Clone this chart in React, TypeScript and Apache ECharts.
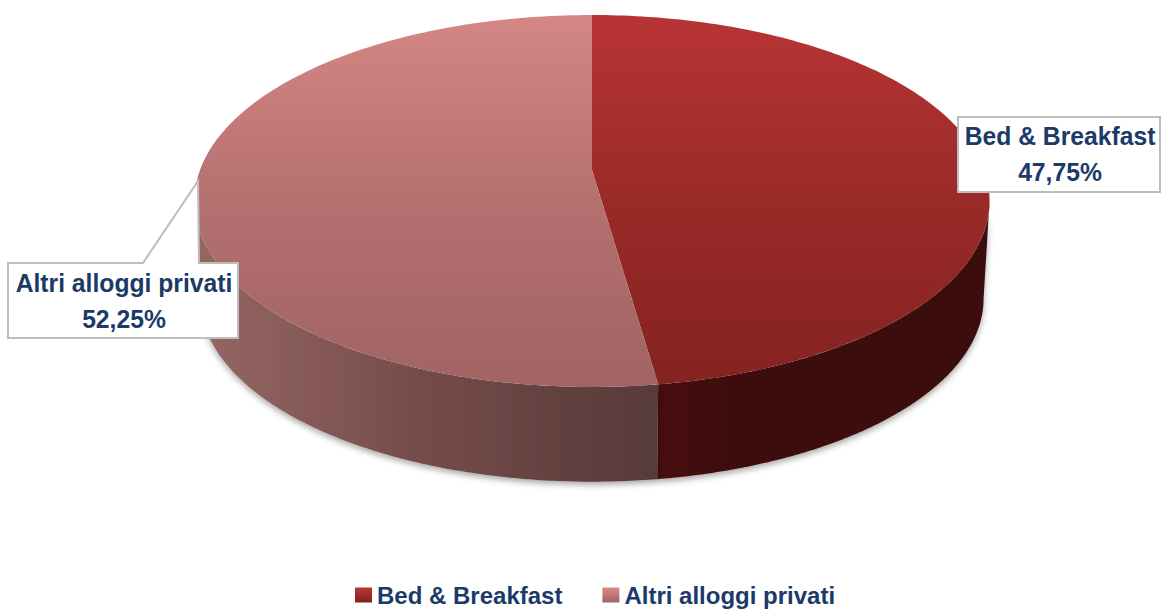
import React, { useEffect, useRef } from "react";
import * as echarts from "echarts";

const categories = ["Bed & Breakfast", "Altri alloggi privati"];
const shares = [47.75, 52.25];
const shareLabels = ["47,75%", "52,25%"];

const topStops = [
  [[0, "#B83434"], [0.5, "#9A2A28"], [1, "#842321"]],
  [[0, "#D48785"], [0.5, "#B57070"], [1, "#A16363"]],
];
const LABEL_FONT = "Liberation Sans";
const NAVY = "#1B3A68";

// perspective projection of the disc
const CX = 592;
const CY = 170;
const A = 392;
const B = 180.8;
const K = 1 / 6;
const DEPTH = 98;
const project = (t: number, scale: number, dy: number) => {
  const u = Math.sin(t);
  const v = -Math.cos(t);
  const d = 1 - K * v;
  return [CX + (scale * A * u) / d, CY + dy + (scale * B * v) / d];
};
const arc = (a: number, b: number, scale: number, dy: number) => {
  const pts: number[][] = [];
  const n = 160;
  for (let i = 0; i <= n; i++) pts.push(project(a + ((b - a) * i) / n, scale, dy));
  return pts;
};

const total = shares.reduce((s, v) => s + v, 0);
const angleBefore = (i: number) => (shares.slice(0, i).reduce((s, v) => s + v, 0) / total) * Math.PI * 2;
// the wall is visible between the two silhouette angles of the disc
const frontFrom = Math.acos(-K);
const frontTo = Math.PI * 2 - frontFrom;

const sideFill = [
  new echarts.graphic.LinearGradient(660, 0, 990, 0, [
    { offset: 0, color: "#471110" },
    { offset: 0.3, color: "#3A0E0D" },
    { offset: 1, color: "#3A0F0E" },
  ], true),
  new echarts.graphic.LinearGradient(205, 0, 660, 0, [
    { offset: 0, color: "#946662" },
    { offset: 0.5, color: "#744A49" },
    { offset: 1, color: "#573A39" },
  ], true),
];

const makeRender = (i: number) => (_: any, api: any) => {
  const value = api.value(0) as number;
  const a0 = angleBefore(i);
  const a1 = a0 + (value / total) * Math.PI * 2;
  const grad = new echarts.graphic.LinearGradient(
    0, 15, 0, 387,
    topStops[i].map(([offset, color]) => ({ offset: offset as number, color: color as string })),
    true
  );
  const top = arc(a0, a1, 1, 0);
  const w0 = Math.max(a0, frontFrom);
  const w1 = Math.min(a1, frontTo);
  const rimTop = arc(w0, w1, 1, 0);
  const rimBottom = arc(w0, w1, 0.985, DEPTH).reverse();
  return {
    type: "group",
    children: [
      {
        type: "polygon",
        z2: 1,
        shape: { points: rimTop.concat(rimBottom) },
        style: { fill: sideFill[i], shadowColor: "rgba(0,0,0,0.35)", shadowBlur: 6, shadowOffsetY: 3 },
      },
      {
        type: "polygon",
        z2: 3,
        shape: { points: [[CX, CY], ...top] },
        style: { fill: grad },
      },
    ],
  };
};

const labelText = (i: number) => `${categories[i]}\n${shareLabels[i]}`;

export default function App() {
  const ref = useRef<HTMLDivElement>(null);
  useEffect(() => {
    const chart = echarts.init(ref.current!, undefined, { renderer: "svg" });
    const labelStyle = {
      fontFamily: LABEL_FONT,
      fontWeight: "bold" as const,
      fontSize: 26,
      lineHeight: 36,
      fill: NAVY,
      align: "center" as const,
      verticalAlign: "middle" as const,
    };
    chart.setOption({
      animation: false,
      backgroundColor: "#fff",
      legend: {
        left: 350,
        top: 578,
        itemWidth: 17,
        itemHeight: 15,
        itemGap: 40,
        icon: "rect",
        textStyle: { fontFamily: LABEL_FONT, fontWeight: "bold", fontSize: 24, color: NAVY },
        data: categories.map((name, i) => ({
          name,
          itemStyle: {
            color: new echarts.graphic.LinearGradient(0, 0, 0, 1, [
              { offset: 0, color: i === 0 ? "#B93636" : "#D88B89" },
              { offset: 1, color: i === 0 ? "#7F2220" : "#A16363" },
            ]),
          },
        })),
      },
      series: categories.map((name, i) => ({
        type: "custom",
        name,
        coordinateSystem: "none",
        silent: true,
        data: [[shares[i]]],
        renderItem: makeRender(i),
      })),
      graphic: [
        {
          type: "polygon",
          z: 100,
          shape: {
            points: [[8, 263], [143, 263], [198, 181], [199, 263], [238, 263], [238, 338], [8, 338]],
          },
          style: { fill: "#fff", stroke: "#BDBDBD", lineWidth: 2 },
        },
        { type: "text", z: 101, x: 124, y: 301, scaleX: 0.95, style: { ...labelStyle, text: labelText(1) } },
        {
          type: "rect",
          z: 100,
          shape: { x: 958, y: 117, width: 202, height: 75 },
          style: { fill: "#fff", stroke: "#BDBDBD", lineWidth: 2 },
        },
        { type: "text", z: 101, x: 1060, y: 154, scaleX: 0.95, style: { ...labelStyle, text: labelText(0) } },
      ],
    });
    return () => chart.dispose();
  }, []);
  return <div ref={ref} style={{ position: "fixed", left: 0, top: 0, width: 1161, height: 613 }} />;
}
